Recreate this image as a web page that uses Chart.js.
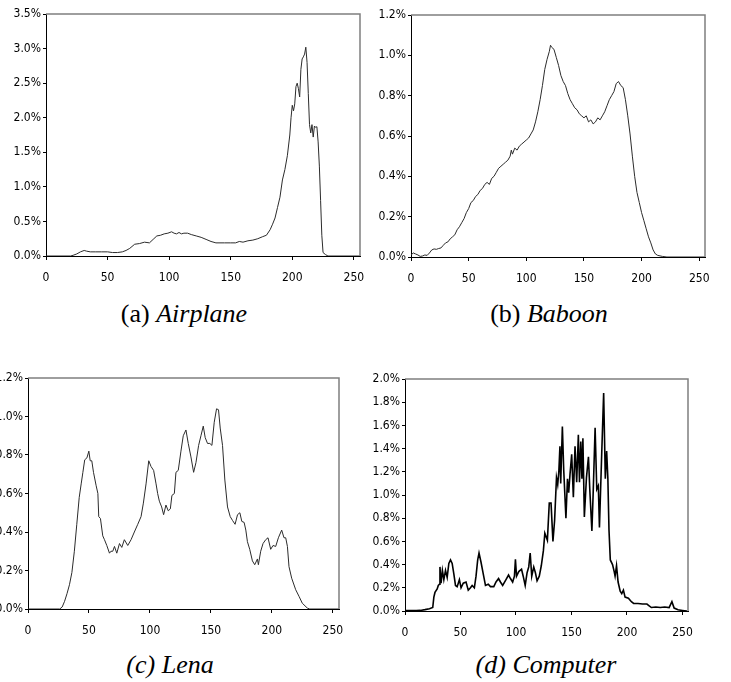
<!DOCTYPE html>
<html lang="en">
  <head>
    <meta charset="UTF-8" />
    <title>Gray-level histograms</title>
    <script src="https://cdn.jsdelivr.net/npm/chart.js"></script>
    <style>
      body { margin: 0; background: #fff; }
      #page { position: relative; width: 731px; height: 682px; overflow: hidden; }
      canvas { position: absolute; }
      .cap {
        position: absolute; width: 300px; text-align: center;
        font-family: "Liberation Serif", "DejaVu Serif", "Noto Serif", serif;
        font-size: 26px; line-height: 26px; color: #000; white-space: nowrap;
      }
    </style>
  </head>
  <body>
    <div id="page">
      <canvas id="chartA" width="370" height="290" style="left:0;top:0"></canvas>
      <canvas id="chartB" width="361" height="290" style="left:370px;top:0"></canvas>
      <canvas id="chartC" width="370" height="290" style="left:-20px;top:350px"></canvas>
      <canvas id="chartD" width="361" height="290" style="left:370px;top:350px"></canvas>

      <div class="cap" style="left:34px;top:301px">(a) <i>Airplane</i></div>
      <div class="cap" style="left:399px;top:301px">(b) <i>Baboon</i></div>
      <div class="cap" style="left:20px;top:652px"><i>(c) Lena</i></div>
      <div class="cap" style="left:396px;top:652px"><i>(d) Computer</i></div>
    </div>

    <script>
      // gray levels on x, share of pixels in % on y
      const xTicks = [0, 50, 100, 150, 200, 250];
      const yTicksA = [0, 0.5, 1, 1.5, 2, 2.5, 3, 3.5];
      const yTicksBC = [0, 0.2, 0.4, 0.6, 0.8, 1.0, 1.2];
      const yTicksD = [0, 0.2, 0.4, 0.6, 0.8, 1.0, 1.2, 1.4, 1.6, 1.8, 2.0];

      const levelsA = [
        0, 20, 22, 25, 28, 31, 33, 36, 40, 45,
        50, 54, 58, 62, 65, 68, 72, 76, 80, 84,
        87, 90, 93, 96, 99, 102, 104, 106, 108, 110,
        112, 115, 118, 122, 126, 130, 134, 138, 145, 150,
        154, 157, 160, 164, 168, 172, 176, 179, 182, 184,
        186, 188, 190, 192, 194, 196, 198, 199, 200, 201,
        202, 203, 204, 205, 206, 207, 208, 209, 210, 211,
        212, 213, 214, 215, 216, 217, 218, 219, 220, 221,
        222, 223, 224, 225, 227, 229, 255];
      const airplane = [
        0, 0, 0.01, 0.03, 0.06, 0.08, 0.07, 0.06, 0.06, 0.06,
        0.06, 0.05, 0.05, 0.06, 0.08, 0.11, 0.17, 0.18, 0.2, 0.19,
        0.24, 0.29, 0.3, 0.32, 0.33, 0.35, 0.33, 0.32, 0.34, 0.32,
        0.33, 0.33, 0.31, 0.29, 0.27, 0.24, 0.21, 0.19, 0.19, 0.19,
        0.19, 0.21, 0.2, 0.22, 0.23, 0.25, 0.28, 0.3, 0.38, 0.46,
        0.55, 0.7, 0.85, 1.1, 1.25, 1.45, 1.75, 2.0, 2.18, 2.1,
        2.2, 2.45, 2.5, 2.42, 2.3, 2.7, 2.85, 2.88, 2.92, 3.02,
        2.8, 2.35, 1.9, 1.78, 1.9, 1.72, 1.88, 1.86, 1.87, 1.65,
        1.3, 0.8, 0.3, 0.05, 0.02, 0, 0];

      const levelsB = [
        0, 2, 4, 6, 8, 10, 12, 14, 16, 18,
        20, 22, 24, 26, 28, 30, 32, 34, 36, 38,
        40, 42, 44, 46, 48, 50, 52, 54, 56, 58,
        60, 62, 64, 66, 68, 70, 72, 74, 76, 78,
        80, 82, 84, 86, 87, 88, 90, 92, 94, 96,
        98, 100, 102, 104, 106, 108, 110, 112, 114, 116,
        118, 120, 121, 122, 124, 126, 128, 130, 132, 134,
        136, 138, 140, 142, 144, 146, 148, 150, 152, 154,
        156, 158, 160, 162, 164, 166, 168, 170, 172, 174,
        176, 178, 180, 182, 184, 186, 188, 190, 192, 194,
        196, 198, 200, 202, 204, 206, 208, 210, 212, 214,
        218, 222, 255];
      const baboon = [
        0.01, 0.02, 0.015, 0.01, 0.003, 0.005, 0.01, 0.008, 0.02, 0.035,
        0.04, 0.038, 0.042, 0.045, 0.058, 0.07, 0.075, 0.09, 0.1, 0.11,
        0.135, 0.15, 0.17, 0.19, 0.22, 0.24, 0.27, 0.28, 0.3, 0.31,
        0.33, 0.34, 0.36, 0.37, 0.36, 0.39, 0.4, 0.42, 0.44, 0.45,
        0.46, 0.47, 0.48, 0.5, 0.53, 0.51, 0.54, 0.53, 0.55, 0.56,
        0.57, 0.58, 0.59, 0.61, 0.63, 0.67, 0.72, 0.78, 0.85, 0.93,
        0.98, 1.02, 1.05, 1.04, 1.03, 0.99, 0.95, 0.9, 0.87, 0.85,
        0.81, 0.78, 0.76, 0.74, 0.73, 0.71, 0.7, 0.69, 0.7, 0.67,
        0.68, 0.66, 0.67, 0.69, 0.68, 0.7, 0.72, 0.75, 0.78, 0.8,
        0.82, 0.86, 0.87, 0.85, 0.84, 0.78, 0.7, 0.61, 0.5, 0.4,
        0.32, 0.27, 0.22, 0.18, 0.14, 0.1, 0.07, 0.035, 0.015, 0.008,
        0.003, 0, 0];

      const levelsC = [
        0, 26, 28, 30, 32, 34, 36, 38, 40, 42,
        43.6, 45, 46.5, 48.3, 49.9, 51, 52.3, 53.7, 55.9, 57.3,
        58, 59.4, 61.3, 62.7, 64.6, 66.8, 68, 69.5, 70.9, 72.8,
        75, 76.9, 79, 81.8, 84.5, 87.2, 90, 92.7, 94.6, 96.8,
        99, 100.9, 103, 105, 106.3, 107.7, 109.6, 111.2, 113.1, 115,
        116.7, 118, 120, 121.3, 123.2, 125.4, 127.3, 129.5, 131.4, 133.6,
        135.8, 137.7, 139.9, 141.8, 143.7, 145.3, 147.2, 149.1, 150.8, 152.7,
        154.6, 156.2, 157.6, 159.5, 161.4, 163.6, 165.8, 167.7, 169.8, 171.8,
        173.7, 175.3, 177.2, 178.6, 179.9, 181.8, 184, 185.9, 188.1, 188.9,
        190.8, 192.7, 194.9, 196.8, 199, 200.9, 203.1, 205.3, 208, 209.9,
        211.3, 212.7, 214, 216.2, 219.5, 222.2, 224.9, 229, 231, 255];
      const lena = [
        0, 0, 0.01, 0.04, 0.08, 0.126, 0.19, 0.3, 0.44, 0.58,
        0.65, 0.71, 0.775, 0.785, 0.82, 0.77, 0.77, 0.71, 0.64, 0.6,
        0.48, 0.47, 0.38, 0.36, 0.33, 0.29, 0.3, 0.3, 0.325, 0.29,
        0.34, 0.32, 0.36, 0.33, 0.36, 0.4, 0.44, 0.48, 0.55, 0.65,
        0.77, 0.74, 0.72, 0.65, 0.6, 0.56, 0.53, 0.49, 0.54, 0.51,
        0.52, 0.59, 0.6, 0.71, 0.72, 0.82, 0.9, 0.93, 0.86, 0.79,
        0.71, 0.76, 0.85, 0.9, 0.95, 0.89, 0.86, 0.86, 0.85, 0.97,
        1.04, 1.035, 0.94, 0.85, 0.67, 0.53, 0.48, 0.46, 0.44, 0.49,
        0.5, 0.455, 0.45, 0.41, 0.35, 0.31, 0.25, 0.23, 0.26, 0.23,
        0.3, 0.34, 0.36, 0.37, 0.31, 0.33, 0.325, 0.37, 0.41, 0.37,
        0.37, 0.325, 0.22, 0.16, 0.1, 0.066, 0.03, 0.005, 0, 0];

      const levelsD = [
        0, 5, 10, 14, 18, 22, 25, 26, 27, 29,
        30, 31, 31.5, 32.5, 33.7, 35, 36.5, 38, 39.5, 41,
        42.5, 44, 45.5, 47, 49, 50.5, 52.5, 55, 57, 59,
        60.5, 62.5, 64, 65.5, 66.7, 68.5, 70.5, 72.5, 75, 77,
        80, 82, 84.3, 86, 88, 91, 93.3, 95, 97, 98.6,
        99.5, 100.5, 102.5, 105, 106.5, 108.3, 110, 111.5, 112.8, 114.2,
        116, 117.5, 119, 121, 122.8, 124.7, 126, 128.3, 130, 131.6,
        133.3, 134.8, 136.5, 137.6, 138.6, 139.6, 140.3, 141.8, 143, 145,
        146.4, 147.5, 148.7, 150.2, 151.7, 153.2, 154.7, 156.2, 157.2, 158.4,
        159.4, 160.3, 161.6, 163.5, 165.3, 166.5, 168.4, 169.5, 171.3, 172.8,
        174.2, 175.2, 177.2, 179, 180.5, 181.7, 182.8, 183.8, 185, 187,
        188.5, 189.3, 190.6, 192, 193.9, 195.3, 196.8, 198.3, 201.3, 204,
        206, 210, 214, 218, 220, 222, 226, 230, 234, 238,
        240.5, 242.5, 246, 250, 254];
      const computer = [
        0.003, 0.003, 0.003, 0.005, 0.012, 0.02, 0.03, 0.12, 0.16, 0.19,
        0.22, 0.23, 0.38, 0.24, 0.35, 0.27, 0.35, 0.29, 0.41, 0.44,
        0.41, 0.32, 0.22, 0.21, 0.27, 0.2, 0.24, 0.25, 0.18, 0.2,
        0.22, 0.2, 0.3, 0.44, 0.5, 0.42, 0.32, 0.22, 0.23, 0.21,
        0.21, 0.25, 0.28, 0.25, 0.22, 0.27, 0.31, 0.28, 0.25, 0.3,
        0.445, 0.3, 0.34, 0.36, 0.3, 0.22, 0.33, 0.38, 0.5, 0.3,
        0.38, 0.33, 0.26, 0.3, 0.39, 0.52, 0.67, 0.61, 0.93, 0.93,
        0.6, 0.78, 1.15, 1.09, 1.2, 1.42, 1.1, 1.59, 1.22, 0.8,
        1.14, 1.02, 1.18, 1.35, 0.98, 1.42, 1.11, 1.52, 1.11, 1.46,
        1.14, 1.49, 0.81, 1.15, 1.33, 1.05, 0.69, 1.0, 1.58, 1.05,
        1.08, 0.72, 1.34, 1.88, 1.14, 1.38, 1.14, 0.7, 0.44, 0.4,
        0.34, 0.3, 0.39, 0.25, 0.17, 0.15, 0.18, 0.12, 0.11, 0.08,
        0.065, 0.065, 0.06, 0.06, 0.045, 0.03, 0.035, 0.03, 0.035, 0.03,
        0.08, 0.025, 0.01, 0.005, 0];

      const tickFont = {
        family: "'Liberation Sans Narrow', 'DejaVu Sans Condensed', 'Liberation Sans', sans-serif",
        size: 12
      };

      // grey frame on the top and right of the plot area
      const framePlugin = {
        id: "frame",
        afterDatasetsDraw(chart) {
          const { ctx, chartArea: a } = chart;
          ctx.save();
          ctx.strokeStyle = "#7f7f7f";
          ctx.lineWidth = 1.5;
          ctx.beginPath();
          ctx.moveTo(a.left, a.top);
          ctx.lineTo(a.right, a.top);
          ctx.lineTo(a.right, a.bottom);
          ctx.stroke();
          ctx.restore();
        }
      };

      function makeChart(id, levels, values, yTicks, box, line) {
        const points = levels.map((x, i) => ({ x: x, y: values[i] }));
        return new Chart(document.getElementById(id), {
          type: "line",
          data: {
            datasets: [{
              data: points,
              borderColor: line.color,
              borderWidth: line.width,
              pointRadius: 0,
              tension: 0,
              fill: false
            }]
          },
          options: {
            responsive: false,
            animation: false,
            events: [],
            layout: { autoPadding: false, padding: { top: box.top, right: box.right, left: 0, bottom: 0 } },
            plugins: { legend: { display: false }, tooltip: { enabled: false } },
            scales: {
              x: {
                type: "linear",
                min: 0,
                max: 255,
                afterBuildTicks: s => { s.ticks = xTicks.map(v => ({ value: v })); },
                afterFit: s => { s.height = box.xH; s.paddingLeft = 0; s.paddingRight = 0; },
                ticks: { font: tickFont, color: "#000", padding: 11, maxRotation: 0, autoSkip: false },
                grid: { drawOnChartArea: false, tickLength: 4, color: "#000" },
                border: { color: "#000", width: 1 }
              },
              y: {
                min: 0,
                max: yTicks[yTicks.length - 1],
                afterBuildTicks: s => { s.ticks = yTicks.map(v => ({ value: v })); },
                afterFit: s => { s.width = box.yW; s.paddingTop = 0; s.paddingBottom = 0; },
                ticks: { font: tickFont, color: "#000", padding: 2, callback: v => v.toFixed(1) + "%" },
                grid: { drawOnChartArea: false, tickLength: 3, color: "#000" },
                border: { color: "#000", width: 1 }
              }
            }
          },
          plugins: [framePlugin]
        });
      }

      makeChart("chartA", levelsA, airplane, yTicksA, { yW: 46, xH: 34, top: 14, right: 10 }, { color: "#2b2b2b", width: 1 });
      makeChart("chartB", levelsB, baboon, yTicksBC, { yW: 41, xH: 33, top: 15, right: 26 }, { color: "#2b2b2b", width: 1 });
      makeChart("chartC", levelsC, lena, yTicksBC, { yW: 48, xH: 31, top: 28, right: 11 }, { color: "#2b2b2b", width: 1 });
      makeChart("chartD", levelsD, computer, yTicksD, { yW: 35, xH: 29, top: 29, right: 43 }, { color: "#000", width: 1.6 });
    </script>
  </body>
</html>
